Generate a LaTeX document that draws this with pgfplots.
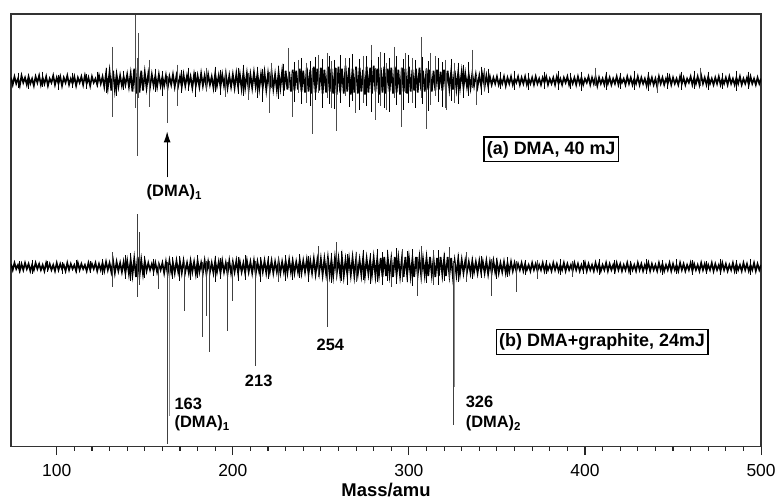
\documentclass[border=0pt]{standalone}
\usepackage{fontspec}
\setmainfont{Liberation Sans}
\usepackage{pgfplots}
\pgfplotsset{compat=1.18}
\usetikzlibrary{arrows.meta}

\newcommand\peakfont{\fontsize{16.5}{19}\selectfont\bfseries}
\newcommand\boxfont{\fontsize{18}{22}\selectfont\bfseries}

\begin{document}
\begin{tikzpicture}
\path[use as bounding box] (-11pt,-54pt) rectangle (769pt,448pt);
\begin{axis}[
    at={(0,0)}, anchor=south west,
    scale only axis, width=753pt, height=434pt,
    xmin=74, xmax=500, ymin=0, ymax=434,
    xtick={100,200,300,400,500}, minor x tick num=9,
    ytick=\empty, xtick pos=left, tick align=outside,
    major tick length=9pt, minor tick length=4.5pt,
    every tick/.append style={line width=1.1pt, black!85},
    axis line style={line width=1.5pt, draw=black!80},
    /pgf/number format/assume math mode=true,
    xticklabel style={font=\fontsize{17.5}{20}\selectfont, yshift=-6pt},
    xlabel={Mass/amu},
    every axis x label/.style={at={(axis description cs:0.5,0)}, yshift=-44pt, anchor=center,
        font=\fontsize{18.5}{22}\selectfont\bfseries},
    unbounded coords=jump,
]
% (a) DMA, 40 mJ
\addplot[black, line width=1.7pt] coordinates {
(74,370)(75,363)(76,371)(77,364)(78,369)(79,362)(80,372)(81,365)(82,370)(83,363)
(84,371)(85,364)(86,369)(87,362)(88,371)(89,365)(90,372)(91,363)(92,370)(93,364)
(94,371)(95,362)(96,369)(97,365)(98,372)(99,363)(100,370)(101,364)(102,371)(103,362)
(104,370)(105,365)(106,372)(107,363)(108,369)(109,364)(110,371)(111,362)(112,370)(113,365)
(114,371)(115,363)(116,372)(117,364)(118,370)(119,362)(120,371)(121,365)(122,369)(123,363)
(124,372)(125,364)(126,371)(127,361)(128,374)(129,360)(130,376)(131,357)(132,377)(133,358)
(134,373)(135,361)(136,372)(137,362)(138,371)(139,363)(140,373)(141,361)(142,374)(143,356)
(144,379)(145,354)(146,380)(147,355)(148,377)(149,357)(150,375)(151,360)(152,374)(153,361)
(154,373)(155,362)(156,372)(157,361)(158,373)(159,362)(160,371)(161,362)(162,372)(163,360)
(164,371)(165,363)(166,373)(167,361)(168,372)(169,362)(170,371)(171,361)(172,373)(173,362)
(174,372)(175,363)(176,371)(177,360)(178,373)(179,362)(180,372)(181,361)(182,374)(183,362)
(184,372)(185,361)(186,373)(187,363)(188,371)(189,360)(190,374)(191,362)(192,372)(193,361)
(194,373)(195,362)(196,374)(197,360)(198,372)(199,361)(200,373)(201,360)(202,374)(203,361)
(204,373)(205,359)(206,375)(207,360)(208,374)(209,358)(210,373)(211,360)(212,375)(213,361)
(214,374)(215,359)(216,373)(217,360)(218,375)(219,358)(220,374)(221,360)(222,376)(223,359)
(224,373)(225,358)(226,375)(227,360)(228,376)(229,357)(230,377)(231,358)(232,376)(233,356)
(234,378)(235,357)(236,377)(237,358)(238,379)(239,356)(240,377)(241,355)(242,380)(243,356)
(244,378)(245,354)(246,381)(247,355)(248,379)(249,357)(250,380)(251,354)(252,378)(253,355)
(254,381)(255,356)(256,379)(257,354)(258,380)(259,353)(260,381)(261,355)(262,379)(263,354)
(264,382)(265,356)(266,380)(267,353)(268,379)(269,355)(270,381)(271,354)(272,380)(273,356)
(274,378)(275,353)(276,381)(277,355)(278,380)(279,354)(280,382)(281,356)(282,379)(283,353)
(284,380)(285,355)(286,381)(287,354)(288,379)(289,356)(290,380)(291,354)(292,381)(293,355)
(294,378)(295,353)(296,380)(297,356)(298,379)(299,354)(300,381)(301,356)(302,378)(303,357)
(304,379)(305,355)(306,380)(307,357)(308,377)(309,356)(310,379)(311,358)(312,378)(313,356)
(314,377)(315,357)(316,378)(317,358)(318,376)(319,357)(320,378)(321,358)(322,377)(323,359)
(324,376)(325,358)(326,377)(327,359)(328,375)(329,360)(330,376)(331,360)(332,374)(333,361)
(334,373)(335,360)(336,374)(337,362)(338,373)(339,361)(340,372)(341,362)(342,373)(343,361)
(344,372)(345,362)(346,371)(347,363)(348,370)(349,364)(350,371)(351,363)(352,369)(353,364)
(354,371)(355,362)(356,370)(357,364)(358,371)(359,363)(360,369)(361,365)(362,371)(363,363)
(364,370)(365,364)(366,371)(367,363)(368,369)(369,364)(370,370)(371,363)(372,371)(373,364)
(374,369)(375,363)(376,370)(377,365)(378,371)(379,363)(380,369)(381,364)(382,370)(383,363)
(384,371)(385,364)(386,369)(387,363)(388,370)(389,365)(390,371)(391,363)(392,369)(393,364)
(394,370)(395,363)(396,371)(397,364)(398,370)(399,363)(400,369)(401,365)(402,371)(403,363)
(404,370)(405,364)(406,371)(407,362)(408,370)(409,364)(410,369)(411,363)(412,371)(413,364)
(414,370)(415,363)(416,369)(417,364)(418,371)(419,363)(420,370)(421,365)(422,369)(423,363)
(424,371)(425,364)(426,370)(427,363)(428,369)(429,364)(430,371)(431,363)(432,370)(433,364)
(434,369)(435,362)(436,371)(437,364)(438,370)(439,363)(440,369)(441,361)(442,371)(443,364)
(444,370)(445,363)(446,369)(447,364)(448,371)(449,363)(450,370)(451,364)(452,369)(453,363)
(454,371)(455,364)(456,370)(457,363)(458,369)(459,365)(460,371)(461,363)(462,370)(463,364)
(464,371)(465,363)(466,372)(467,364)(468,370)(469,363)(470,371)(471,364)(472,369)(473,363)
(474,370)(475,364)(476,371)(477,363)(478,369)(479,364)(480,370)(481,363)(482,371)(483,364)
(484,369)(485,363)(486,370)(487,364)(488,371)(489,363)(490,369)(491,364)(492,370)(493,363)
(494,371)(495,364)(496,369)(497,363)(498,370)(499,364)(500,369)
};
% spikes of (a)
\addplot[black!70, line width=0.6pt] coordinates {
(131.5,401)(131.5,331)(131.5,nan) (144.7,433)(144.7,340)(144.7,nan)
(145.7,390)(145.7,291)(145.7,nan) (146.6,415)(146.6,350)(146.6,nan)
(152.3,388)(152.3,341)(152.3,nan) (162.7,372)(162.7,325)(162.7,nan)
(168.7,383)(168.7,342)(168.7,nan) (184.7,380)(184.7,358)(184.7,nan)
(196,378)(196,351)(196,nan) (209,375)(209,348)(209,nan)
(220.5,376)(220.5,335)(220.5,nan) (222,385)(222,360)(222,nan)
(231.3,400)(231.3,360)(231.3,nan) (233.5,375)(233.5,331)(233.5,nan)
(237,388)(237,355)(237,nan) (242,385)(242,345)(242,nan)
(245.4,380)(245.4,313)(245.4,nan) (248.8,393)(248.8,355)(248.8,nan)
(253.4,395)(253.4,350)(253.4,nan) (256,387)(256,340)(256,nan)
(259,380)(259,316)(259,nan) (264,390)(264,352)(264,nan)
(269.6,378)(269.6,335)(269.6,nan) (274,392)(274,345)(274,nan)
(278.8,403)(278.8,350)(278.8,nan) (280.9,380)(280.9,328)(280.9,nan)
(284,396)(284,342)(284,nan) (287.3,385)(287.3,338)(287.3,nan)
(291.8,401)(291.8,350)(291.8,nan) (295.6,380)(295.6,320)(295.6,nan)
(298,395)(298,355)(298,nan) (302,390)(302,345)(302,nan)
(306.9,411)(306.9,350)(306.9,nan) (309.6,380)(309.6,318)(309.6,nan)
(312,395)(312,343)(312,nan) (315,392)(315,352)(315,nan)
(320.5,388)(320.5,340)(320.5,nan) (321.5,375)(321.5,338)(321.5,nan)
(326,385)(326,345)(326,nan) (336,398)(336,360)(336,nan)
(338,372)(338,343)(338,nan) (343,380)(343,358)(343,nan)
(406,380)(406,362)(406,nan) (441,370)(441,355)(441,nan)
(465.5,380)(465.5,362)(465.5,nan)
};
% small noise spikes of (a)
\addplot[black, line width=1pt] coordinates {
(78,375)(78,360)(78,nan) (84,374)(84,359)(84,nan) (92,376)(92,361)(92,nan)
(101,373)(101,358)(101,nan) (109,375)(109,360)(109,nan) (117,374)(117,359)(117,nan)
(123,376)(123,361)(123,nan) (128,380)(128,355)(128,nan) (134,378)(134,352)(134,nan)
(138,377)(138,358)(138,nan) (156,379)(156,356)(156,nan) (160,377)(160,352)(160,nan)
(171,378)(171,355)(171,nan) (175,380)(175,357)(175,nan) (179,376)(179,351)(179,nan)
(190,381)(190,356)(190,nan) (193,378)(193,353)(193,nan) (203,380)(203,354)(203,nan)
(206,383)(206,352)(206,nan) (214,381)(214,350)(214,nan) (217,379)(217,346)(217,nan)
(226,382)(226,349)(226,nan) (229,384)(229,352)(229,nan) (235,386)(235,346)(235,nan)
(239,390)(239,344)(239,nan) (244,387)(244,342)(244,nan) (247,391)(247,348)(247,nan)
(251,389)(251,340)(251,nan) (255,392)(255,344)(255,nan) (258,388)(258,339)(258,nan)
(261,393)(261,345)(261,nan) (266,390)(266,341)(266,nan) (268,394)(268,347)(268,nan)
(272,389)(272,338)(272,nan) (276,392)(276,342)(276,nan) (279,388)(279,336)(279,nan)
(283,391)(283,345)(283,nan) (286,395)(286,340)(286,nan) (289,390)(289,336)(289,nan)
(293,392)(293,343)(293,nan) (297,389)(297,338)(297,nan) (300,393)(300,345)(300,nan)
(304,388)(304,340)(304,nan) (308,391)(308,344)(308,nan) (311,387)(311,337)(311,nan)
(317,390)(317,346)(317,nan) (319,386)(319,341)(319,nan) (324,389)(324,347)(324,nan)
(328,385)(328,344)(328,nan) (331,383)(331,350)(331,nan) (334,386)(334,352)(334,nan)
(341,381)(341,353)(341,nan) (345,379)(345,355)(345,nan) (352,376)(352,359)(352,nan)
(360,377)(360,358)(360,nan) (368,375)(368,358)(368,nan) (377,376)(377,359)(377,nan)
(385,377)(385,358)(385,nan) (392,375)(392,359)(392,nan) (398,376)(398,357)(398,nan)
(412,376)(412,358)(412,nan) (420,375)(420,359)(420,nan) (428,377)(428,358)(428,nan)
(436,376)(436,357)(436,nan) (447,375)(447,359)(447,nan) (455,376)(455,358)(455,nan)
(462,377)(462,359)(462,nan) (470,376)(470,358)(470,nan) (478,375)(478,359)(478,nan)
(486,377)(486,357)(486,nan) (493,376)(493,359)(493,nan)
};
% (b) DMA+graphite, 24mJ
\addplot[black, line width=1.7pt] coordinates {
(74,183)(75,177)(76,184)(77,178)(78,182)(79,176)(80,183)(81,177)(82,184)(83,178)
(84,183)(85,176)(86,182)(87,177)(88,184)(89,178)(90,183)(91,177)(92,182)(93,176)
(94,184)(95,178)(96,183)(97,177)(98,182)(99,176)(100,184)(101,177)(102,183)(103,178)
(104,182)(105,176)(106,184)(107,177)(108,183)(109,178)(110,182)(111,176)(112,184)(113,177)
(114,183)(115,178)(116,182)(117,176)(118,184)(119,177)(120,183)(121,178)(122,184)(123,176)
(124,183)(125,177)(126,184)(127,176)(128,185)(129,177)(130,184)(131,175)(132,186)(133,174)
(134,185)(135,176)(136,184)(137,175)(138,185)(139,174)(140,186)(141,173)(142,187)(143,172)
(144,188)(145,170)(146,190)(147,171)(148,187)(149,173)(150,186)(151,176)(152,184)(153,177)
(154,183)(155,176)(156,184)(157,175)(158,183)(159,177)(160,184)(161,174)(162,185)(163,173)
(164,186)(165,175)(166,184)(167,174)(168,186)(169,175)(170,185)(171,174)(172,186)(173,175)
(174,184)(175,174)(176,186)(177,175)(178,185)(179,173)(180,186)(181,175)(182,184)(183,174)
(184,186)(185,173)(186,185)(187,175)(188,184)(189,174)(190,186)(191,175)(192,185)(193,174)
(194,186)(195,175)(196,184)(197,173)(198,186)(199,174)(200,185)(201,175)(202,186)(203,174)
(204,185)(205,175)(206,184)(207,174)(208,186)(209,175)(210,185)(211,174)(212,186)(213,173)
(214,185)(215,175)(216,185)(217,175)(218,186)(219,174)(220,185)(221,175)(222,186)(223,174)
(224,185)(225,175)(226,186)(227,174)(228,185)(229,175)(230,186)(231,174)(232,187)(233,175)
(234,186)(235,174)(236,185)(237,175)(238,187)(239,174)(240,186)(241,175)(242,187)(243,173)
(244,186)(245,174)(246,188)(247,173)(248,187)(249,174)(250,188)(251,172)(252,188)(253,173)
(254,189)(255,172)(256,187)(257,171)(258,189)(259,173)(260,188)(261,172)(262,189)(263,171)
(264,187)(265,173)(266,188)(267,172)(268,189)(269,171)(270,188)(271,173)(272,187)(273,172)
(274,189)(275,171)(276,188)(277,173)(278,187)(279,172)(280,189)(281,171)(282,188)(283,172)
(284,189)(285,170)(286,190)(287,171)(288,189)(289,172)(290,188)(291,170)(292,190)(293,172)
(294,189)(295,171)(296,188)(297,170)(298,190)(299,172)(300,189)(301,171)(302,188)(303,170)
(304,190)(305,172)(306,189)(307,171)(308,188)(309,172)(310,189)(311,171)(312,190)(313,172)
(314,188)(315,170)(316,189)(317,171)(318,190)(319,172)(320,188)(321,171)(322,190)(323,172)
(324,189)(325,170)(326,186)(327,172)(328,188)(329,173)(330,187)(331,174)(332,186)(333,175)
(334,185)(335,174)(336,186)(337,175)(338,185)(339,174)(340,186)(341,175)(342,185)(343,174)
(344,186)(345,173)(346,185)(347,174)(348,186)(349,175)(350,185)(351,174)(352,184)(353,175)
(354,185)(355,174)(356,184)(357,175)(358,185)(359,176)(360,184)(361,176)(362,183)(363,177)
(364,184)(365,176)(366,183)(367,177)(368,182)(369,176)(370,184)(371,177)(372,183)(373,176)
(374,182)(375,177)(376,184)(377,176)(378,183)(379,177)(380,182)(381,176)(382,184)(383,177)
(384,183)(385,176)(386,182)(387,177)(388,184)(389,176)(390,183)(391,177)(392,182)(393,176)
(394,184)(395,177)(396,183)(397,176)(398,182)(399,177)(400,184)(401,176)(402,183)(403,177)
(404,182)(405,176)(406,184)(407,177)(408,183)(409,176)(410,182)(411,177)(412,184)(413,176)
(414,183)(415,177)(416,182)(417,176)(418,184)(419,177)(420,183)(421,176)(422,182)(423,177)
(424,184)(425,176)(426,183)(427,177)(428,182)(429,176)(430,184)(431,177)(432,183)(433,176)
(434,182)(435,177)(436,184)(437,176)(438,183)(439,177)(440,182)(441,176)(442,184)(443,177)
(444,183)(445,176)(446,182)(447,177)(448,184)(449,176)(450,183)(451,177)(452,182)(453,176)
(454,184)(455,177)(456,183)(457,176)(458,182)(459,177)(460,184)(461,176)(462,183)(463,177)
(464,182)(465,176)(466,184)(467,177)(468,183)(469,176)(470,182)(471,177)(472,184)(473,176)
(474,183)(475,177)(476,182)(477,176)(478,184)(479,177)(480,183)(481,176)(482,182)(483,177)
(484,184)(485,176)(486,183)(487,177)(488,182)(489,176)(490,184)(491,177)(492,183)(493,176)
(494,182)(495,177)(496,184)(497,176)(498,183)(499,177)(500,182)
};
% spikes of (b)
\addplot[black!75, line width=0.6pt] coordinates {
(131.5,195)(131.5,160)(131.5,nan) (146,233)(146,150)(146,nan)
(147,215)(147,162)(147,nan) (157.7,185)(157.7,158)(157.7,nan)
(162.8,185)(162.8,2)(162.8,nan) (172.5,184)(172.5,136)(172.5,nan)
(182.4,185)(182.4,110)(182.4,nan) (184.7,186)(184.7,131)(184.7,nan)
(186.6,186)(186.6,95)(186.6,nan) (196.6,185)(196.6,116)(196.6,nan)
(199.6,185)(199.6,146)(199.6,nan) (212.6,186)(212.6,81)(212.6,nan)
(226,190)(226,165)(226,nan) (248.8,201)(248.8,170)(248.8,nan)
(253.5,188)(253.5,120)(253.5,nan) (259,205)(259,168)(259,nan)
(270,195)(270,165)(270,nan) (290,190)(290,160)(290,nan)
(296,198)(296,165)(296,nan) (305,190)(305,151)(305,nan)
(307,201)(307,168)(307,nan) (314,197)(314,162)(314,nan)
(323,200)(323,168)(323,nan) (325.2,186)(325.2,21)(325.2,nan)
(332.6,195)(332.6,165)(332.6,nan) (347,188)(347,151)(347,nan)
(361,186)(361,155)(361,nan) (373,187)(373,168)(373,nan)
(393,186)(393,170)(393,nan)
};
% small noise spikes of (b)
\addplot[black, line width=1pt] coordinates {
(79,186)(79,174)(79,nan) (86,187)(86,173)(86,nan) (95,186)(95,175)(95,nan)
(103,185)(103,173)(103,nan) (111,187)(111,174)(111,nan) (119,186)(119,174)(119,nan)
(126,188)(126,172)(126,nan) (139,192)(139,168)(139,nan) (142,194)(142,166)(142,nan)
(150,191)(150,169)(150,nan) (155,188)(155,171)(155,nan) (166,190)(166,168)(166,nan)
(170,191)(170,166)(170,nan) (176,189)(176,167)(176,nan) (180,192)(180,169)(180,nan)
(190,191)(190,165)(190,nan) (193,189)(193,168)(193,nan) (203,190)(203,166)(203,nan)
(207,192)(207,167)(207,nan) (216,190)(216,165)(216,nan) (220,191)(220,168)(220,nan)
(230,192)(230,166)(230,nan) (234,190)(234,167)(234,nan) (238,193)(238,169)(238,nan)
(243,191)(243,165)(243,nan) (256,194)(256,164)(256,nan) (262,196)(262,166)(262,nan)
(265,193)(265,162)(265,nan) (274,197)(274,167)(274,nan) (278,194)(278,163)(278,nan)
(282,198)(282,165)(282,nan) (285,195)(285,162)(285,nan) (288,197)(288,166)(288,nan)
(293,199)(293,163)(293,nan) (299,196)(299,165)(299,nan) (302,198)(302,161)(302,nan)
(310,195)(310,164)(310,nan) (317,197)(317,162)(317,nan) (320,194)(320,166)(320,nan)
(328,193)(328,165)(328,nan) (336,190)(336,168)(336,nan) (341,191)(341,169)(341,nan)
(350,189)(350,168)(350,nan) (356,190)(356,170)(356,nan) (366,187)(366,172)(366,nan)
(378,187)(378,173)(378,nan) (386,188)(386,172)(386,nan) (399,187)(399,173)(399,nan)
(408,188)(408,172)(408,nan) (417,187)(417,173)(417,nan) (426,186)(426,172)(426,nan)
(435,188)(435,173)(435,nan) (444,187)(444,172)(444,nan) (452,188)(452,173)(452,nan)
(461,187)(461,172)(461,nan) (469,186)(469,173)(469,nan) (477,188)(477,172)(477,nan)
(486,187)(486,173)(486,nan) (494,188)(494,172)(494,nan)
};
\addplot[black!45, line width=0.6pt] coordinates {
(163.8,182)(163.8,30)(163.8,nan) (326,184)(326,60)(326,nan)
};
% annotations
\draw[line width=0.9pt, -{Latex[length=11pt,width=7pt]}] (axis cs:162.7,270) -- (axis cs:162.7,316);
\node[font=\peakfont] at (axis cs:166.8,255) {(DMA)\textsubscript{1}};
\node[font=\peakfont, anchor=west, inner sep=0pt] at (axis cs:166.8,43) {163};
\node[font=\peakfont, anchor=west, inner sep=0pt] at (axis cs:166.8,23) {(DMA)\textsubscript{1}};
\node[font=\peakfont] at (axis cs:214.7,66) {213};
\node[font=\peakfont] at (axis cs:255.4,102) {254};
\node[font=\peakfont, anchor=west, inner sep=0pt] at (axis cs:332.2,45) {326};
\node[font=\peakfont, anchor=west, inner sep=0pt] at (axis cs:332.2,23) {(DMA)\textsubscript{2}};
\node[font=\boxfont, draw, line width=1.2pt, inner xsep=3pt, inner ysep=4pt] at (axis cs:380.8,298) {(a) DMA, 40 mJ};
\node[font=\boxfont, draw, line width=1.2pt, inner xsep=3pt, inner ysep=4pt] at (axis cs:409.7,104.5) {(b) DMA+graphite, 24mJ};
\end{axis}
\end{tikzpicture}
\end{document}
